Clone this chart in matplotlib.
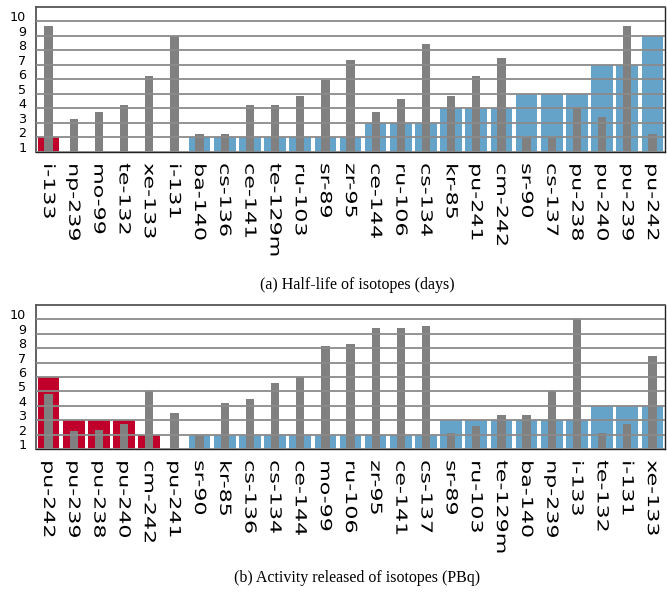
import matplotlib
matplotlib.use('Agg')
import matplotlib.pyplot as plt
import matplotlib.transforms as mtransforms
from matplotlib.patheffects import AbstractPathEffect
import numpy as np

# (a) half-life of isotopes
half_labels = ['i-133', 'np-239', 'mo-99', 'te-132', 'xe-133', 'i-131', 'ba-140',
               'cs-136', 'ce-141', 'te-129m', 'ru-103', 'sr-89', 'zr-95', 'ce-144',
               'ru-106', 'cs-134', 'kr-85', 'pu-241', 'cm-242', 'sr-90', 'cs-137',
               'pu-238', 'pu-240', 'pu-239', 'pu-242']
half_class = [2, 1, 1, 1, 1, 1, 2, 2, 2, 2, 2, 2, 2, 3, 3, 3, 4, 4, 4, 5, 5, 5, 7, 7, 9]
half_red = ['i-133']
half_gray = [9.66, 3.29, 3.75, 4.23, 6.24, 8.97, 2.22, 2.22, 4.23, 4.23, 4.86, 5.99,
             7.35, 3.75, 4.65, 8.46, 4.86, 6.24, 7.49, 1.99, 1.99, 4.09, 3.40, 9.71, 2.22]

# (b) activity released of isotopes
act_labels = ['pu-242', 'pu-239', 'pu-238', 'pu-240', 'cm-242', 'pu-241', 'sr-90',
              'kr-85', 'cs-136', 'cs-134', 'ce-144', 'mo-99', 'ru-106', 'zr-95',
              'ce-141', 'cs-137', 'sr-89', 'ru-103', 'te-129m', 'ba-140', 'np-239',
              'i-133', 'te-132', 'i-131', 'xe-133']
act_class = [6, 3, 3, 3, 2, 1, 2, 2, 2, 2, 2, 2, 2, 2, 2, 2, 3, 3, 3, 3, 3, 3, 4, 4, 4]
act_red = ['pu-242', 'pu-239', 'pu-238', 'pu-240', 'cm-242', 'pu-241']
act_gray = [4.84, 2.26, 2.33, 2.74, 5.0, 3.51, 1.98, 4.21, 4.49, 5.6, 5.98, 8.12,
            8.26, 9.37, 9.37, 9.51, 2.12, 2.6, 3.37, 3.37, 5.0, 10.0, 2.12, 2.74, 7.49]

yticks = list(range(1, 11))

RED = '#c0002a'
BLUE = '#66a3c8'
GRAY = '#808080'


class Stretch(AbstractPathEffect):
    # widen glyphs along the text direction (labels in the original are stretched)
    def __init__(self, sx):
        super().__init__()
        self.sx = sx

    def draw_path(self, renderer, gc, tpath, affine, rgbFace=None):
        renderer.draw_path(gc, tpath, mtransforms.Affine2D().scale(self.sx, 1) + affine, rgbFace)


fig = plt.figure(figsize=(6.67, 5.93), dpi=100)


def panel(rect, labels, classes, reds, gray, caption, cap_y):
    ax = fig.add_axes(rect)
    x = np.arange(len(labels))
    colors = [RED if lab in reds else BLUE for lab in labels]
    ax.bar(x, classes, 0.86, color=colors, zorder=1)
    ax.bar(x, gray, 0.33, color=GRAY, zorder=2)
    ax.set_xlim(-0.5, len(labels) - 0.5)
    ax.set_ylim(1, 11)
    ax.set_yticks(yticks)
    ax.set_yticklabels([str(t) for t in yticks], fontsize=9.2)
    ax.set_xticks(x)
    ax.set_xticklabels(labels, rotation=-90, fontsize=11, ha='center', va='top')
    for lab in ax.get_xticklabels():
        lab.set_path_effects([Stretch(1.45)])
    ax.tick_params(axis='both', length=0)
    ax.tick_params(axis='y', pad=7)
    ax.tick_params(axis='x', pad=8)
    ax.yaxis.grid(True, color='#8a8a8a', linewidth=1.3, zorder=3)
    ax.set_axisbelow(False)
    off = mtransforms.ScaledTranslation(0, 5 / 100., fig.dpi_scale_trans)
    for lab in ax.get_yticklabels():
        lab.set_transform(lab.get_transform() + off)
    for side in ['top', 'left']:
        ax.spines[side].set_color('#555555')
        ax.spines[side].set_linewidth(1.3)
    for side in ['bottom', 'right']:
        ax.spines[side].set_color('#222222')
        ax.spines[side].set_linewidth(1.0)
    fig.text(0.535, cap_y, caption, ha='center', va='center',
             family='Liberation Serif', fontsize=11.5)
    return ax


panel([0.054, 0.7437, 0.943, 0.2445], half_labels, half_class, half_red, half_gray,
      '(a) Half-life of isotopes (days)', 1 - 285 / 593.)
panel([0.054, 0.2428, 0.943, 0.2429], act_labels, act_class, act_red, act_gray,
      '(b) Activity released of isotopes (PBq)', 1 - 578 / 593.)

fig.savefig('out.png', dpi=100)
